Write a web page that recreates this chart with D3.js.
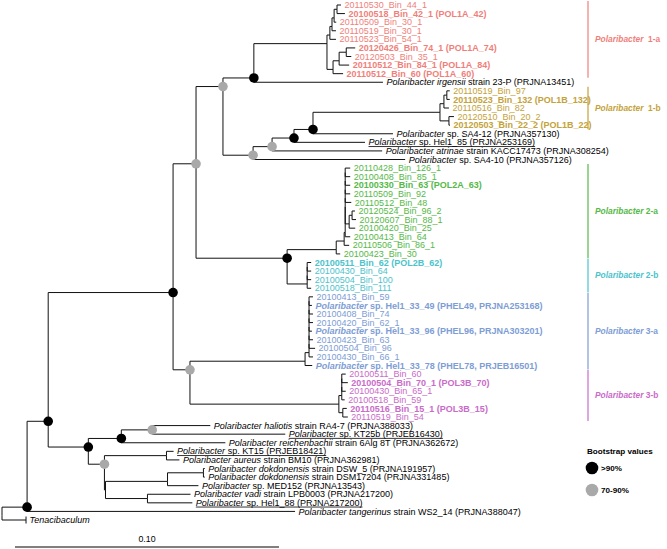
<!DOCTYPE html>
<html><head><meta charset="utf-8">
<script src="https://cdn.jsdelivr.net/npm/d3@7"></script>
<style>
html,body{margin:0;padding:0;background:#fff;}
svg{display:block;font-family:"Liberation Sans",Arial,sans-serif;}
</style></head>
<body>
<svg id="chart" width="667" height="549"></svg>
<script>
// ---------------- DATA ----------------
const leafLabels = [
"20110530_Bin_44_1","20100518_Bin_42_1 (POL1A_42)","20110509_Bin_30_1","20110519_Bin_30_1","20110523_Bin_54_1",
"20120426_Bin_74_1 (POL1A_74)","20120503_Bin_35_1","20110512_Bin_84_1 (POL1A_84)","20110512_Bin_60 (POL1A_60)",
"Polaribacter irgensii strain 23-P (PRJNA13451)",
"20110519_Bin_97","20110523_Bin_132 (POL1B_132)","20110516_Bin_82","20120510_Bin_20_2","20120503_Bin_22_2 (POL1B_22)",
"Polaribacter sp. SA4-12 (PRJNA357130)","Polaribacter sp. Hel1_85 (PRJNA253169)",
"Polaribacter atrinae strain KACC17473 (PRJNA308254)","Polaribacter sp. SA4-10 (PRJNA357126)",
"20110428_Bin_126_1","20100408_Bin_85_1","20100330_Bin_63 (POL2A_63)","20110509_Bin_92","20110512_Bin_48",
"20120524_Bin_96_2","20120607_Bin_88_1","20100420_Bin_25","20100413_Bin_64","20110506_Bin_86_1","20100423_Bin_30",
"20100511_Bin_62 (POL2B_62)","20100430_Bin_64","20100504_Bin_100","20100518_Bin_111",
"20100413_Bin_59","Polaribacter sp. Hel1_33_49 (PHEL49, PRJNA253168)","20100408_Bin_74","20100420_Bin_62_1",
"Polaribacter sp. Hel1_33_96 (PHEL96, PRJNA303201)","20100423_Bin_63","20100504_Bin_96","20100430_Bin_66_1",
"Polaribacter sp. Hel1_33_78 (PHEL78, PRJEB16501)",
"20100511_Bin_60","20100504_Bin_70_1 (POL3B_70)","20100430_Bin_65_1","20100518_Bin_59","20110516_Bin_15_1 (POL3B_15)","20110519_Bin_54",
"Polaribacter haliotis strain RA4-7 (PRJNA388033)","Polaribacter sp. KT25b (PRJEB16430)",
"Polaribacter reichenbachii strain 6Alg 8T (PRJNA362672)","Polaribacter sp. KT15 (PRJEB18421)",
"Polaribacter aureus strain BM10 (PRJNA362981)","Polaribacter dokdonensis strain DSW_5 (PRJNA191957)",
"Polaribacter dokdonensis strain DSM17204 (PRJNA331485)","Polaribacter sp. MED152 (PRJNA13543)",
"Polaribacter vadi strain LPB0003 (PRJNA217200)","Polaribacter sp. Hel1_88 (PRJNA217200)",
"Polaribacter tangerinus strain WS2_14 (PRJNA388047)","Tenacibaculum"
];
const boldLeaves = [2,6,8,9,12,15,22,31,36,39,43,45,48];
const underlinedLeaves = [17,51,53,59];
const collapsedLeaves = [61];
// groups: name, first leaf, last leaf
const groupNames = ["1-a","1-b","2-a","2-b","3-a","3-b"];
const groupFirst = [1,11,20,31,35,44];
const groupLast  = [9,15,30,34,43,49];

// tree in Newick pieces (leaf numbers index leafLabels; internal labels b = >90%, g = 70-90%)
const clade1a = "(((((1:0.0015,2:0.0030):0.0011,3:0.0008):0.0008,4:0.0015):0.0008,5:0.0023):0.0011," +
                "(((6:0.0034,7:0.0019):0.0027,8:0.0038):0.0023,9:0.0038):0.0023):0.0277";
const clade1b = "(((11:0.0011,12:0.0011):0.0011,13:0.0019):0.0015,(14:0.0019,15:0.0004):0.0034):0.0481";
const clade2a = "((((((((20:0.0019,21:0.0019):0,22:0.0019):0,23:0.0019):0,24:0.0023):0," +
                "((25:0.0011,26:0.0015):0.0011,27:0.0023):0.0015):0,28:0.0019):0.0004,29:0.0019):0.0030,30:0.0015):0.0186";
const clade2b = "(((31:0.0015,32:0.0015):0,33:0.0015):0,34:0.0015):0.0076";
const clade3a = "((((((((35:0.0015,36:0.0011):0,37:0.0015):0,38:0.0015):0,39:0.0011):0,40:0.0015):0,41:0.0023):0," +
                "42:0.0015):0.0015,43:0.0027):0.0436";
const clade3b = "((((44:0.0015,45:0.0023):0,46:0.0015):0,47:0.0011):0.0011,(48:0.0015,49:0.0019):0.0015):0.0564";
const cladeRefs = "(((50:0.0220,51:0.0504)g:0.0117,52:0.0394)b:0.0125," +
                  "((53:0.0027,54:0.0049):0.0235,(((55:0.0005,56:0.0005):0.0136,57:0.0117):0.0235," +
                  "(58:0.0163,59:0.0170):0.0159):0.0004)g:0.0061)b:0.0152";
const cladeC1 = "((" + clade1a + ",10:0.0489)b:0.0117,((((" + clade1b + ",16:0.0303)b:0.0072,17:0.0269)b:0.0083," +
                "18:0.0417)g:0.0072,19:0.0576)g:0.0114)g:0.0102";
const cladeC2 = "(" + clade2a + "," + clade2b + ")b:0.0345";
const newick = "(((((" + cladeC1 + "," + cladeC2 + ")g:0.0087,(" + clade3a + "," + clade3b + ")g:0.0064)b:0.0473," +
               cladeRefs + ")b:0.0080,60:0.1015)b:0.0095,61:0.0091);";

const scaleBarValue = 0.10;
const legendTitle = "Bootstrap values";
const legendLabels = [">90%", "70-90%"];
const legendCodes = ["b", "g"];

// ---------------- STYLE ----------------
const groupColors = {"1-a":"#f07f7b","1-b":"#c4a23a","2-a":"#55b947","2-b":"#4cc3cc","3-a":"#7d9dd5","3-b":"#c96bc9"};
const supportColors = {b:"#000000", g:"#a9a9a9"};

// ---------------- PARSE ----------------
function parseNewick(s){
  let i = 0;
  function node(){
    const n = {children: []};
    if (s[i] === "("){
      i++; n.children.push(node());
      while (s[i] === ","){ i++; n.children.push(node()); }
      i++;
    }
    let name = "";
    while (i < s.length && !",():;".includes(s[i])) name += s[i++];
    n.name = name;
    if (s[i] === ":"){
      i++; let num = "";
      while (i < s.length && !",();".includes(s[i])) num += s[i++];
      n.length = +num;
    } else n.length = 0;
    return n;
  }
  return node();
}
const root = d3.hierarchy(parseNewick(newick), d => d.children.length ? d.children : null);
root.eachBefore(d => { d.dist = (d.parent ? d.parent.dist : 0) + d.data.length; });

const leaves = root.leaves();
const x = d3.scaleLinear().domain([0, 0.1]).range([2, 266]);
const y = d3.scalePoint().domain(leaves.map(d => d.data.name)).range([5, 520]);

leaves.forEach(d => { d.py = y(d.data.name); });
root.eachAfter(d => {
  d.px = x(d.dist);
  if (d.children){
    const a = d.children[0].leaves(), b = d.children[d.children.length-1].leaves();
    d.py = (a[a.length-1].py + b[0].py) / 2;
  }
});

function groupOf(num){
  for (let k=0;k<groupNames.length;k++) if (num>=groupFirst[k] && num<=groupLast[k]) return groupNames[k];
  return null;
}

const svg = d3.select("#chart");

// branches
svg.append("g").selectAll("path").data(root.descendants().filter(d => d.parent)).join("path")
  .attr("d", d => `M${d.parent.px},${d.parent.py}V${d.py}H${d.px}`)
  .attr("fill","none").attr("stroke","#111").attr("stroke-width",1);

// collapsed tick
svg.append("g").selectAll("line").data(leaves.filter(d => collapsedLeaves.includes(+d.data.name))).join("line")
  .attr("x1", d => d.px).attr("x2", d => d.px).attr("y1", d => d.py-3.5).attr("y2", d => d.py+3.5)
  .attr("stroke","#111").attr("stroke-width",1);

// support dots
svg.append("g").selectAll("circle").data(root.descendants().filter(d => d.children && supportColors[d.data.name])).join("circle")
  .attr("cx", d => d.px).attr("cy", d => d.py).attr("r", 4.8)
  .attr("fill", d => supportColors[d.data.name]);

// labels
const lab = svg.append("g").attr("font-size", 9);
leaves.forEach(d => {
  const num = +d.data.name, text = leafLabels[num-1];
  const g = groupOf(num);
  const t = lab.append("text").attr("x", d.px + 3.5).attr("y", d.py).attr("dy","0.35em")
    .attr("fill", g ? groupColors[g] : "#000")
    .attr("font-weight", boldLeaves.includes(num) ? "bold" : "normal");
  let ital = "", rest = text;
  if (text.startsWith("Polaribacter ")){
    const parts = text.split(" ");
    if (parts[1] === "sp."){ ital = "Polaribacter"; rest = " " + parts.slice(1).join(" "); }
    else { ital = "Polaribacter " + parts[1]; rest = " " + parts.slice(2).join(" "); }
  } else if (!/^\d/.test(text)) { ital = text; rest = ""; }
  if (ital) t.append("tspan").attr("font-style","italic").text(ital);
  if (rest) t.append("tspan").attr("xml:space","preserve").text(rest);
  if (underlinedLeaves.includes(num)){
    const bb = t.node().getBBox();
    lab.append("line").attr("x1", bb.x).attr("x2", bb.x + bb.width)
      .attr("y1", d.py + 4.2).attr("y2", d.py + 4.2).attr("stroke","#000").attr("stroke-width",0.8);
  }
});

// group bars and labels
groupNames.forEach((name, k) => {
  const y0 = y(String(groupFirst[k])) - 4, y1 = y(String(groupLast[k])) + 4;
  svg.append("line").attr("x1", 588).attr("x2", 588).attr("y1", y0).attr("y2", y1)
    .attr("stroke", groupColors[name]).attr("stroke-width", 1.2);
  const t = svg.append("text").attr("x", 595).attr("y", (y0+y1)/2).attr("dy","0.35em")
    .attr("font-size", 8.4).attr("font-weight","bold").attr("fill", groupColors[name]);
  t.append("tspan").attr("font-style","italic").text("Polaribacter");
  t.append("tspan").attr("xml:space","preserve").text((name.startsWith("1") ? "  " : " ") + name);
});

// legend
const lg = svg.append("g");
lg.append("text").attr("x", 587).attr("y", 451).attr("dy","0.35em").attr("font-size", 8.1)
  .attr("font-weight","bold").text(legendTitle);
legendLabels.forEach((l, k) => {
  const cy = 468 + k*22;
  lg.append("circle").attr("cx", 592).attr("cy", cy).attr("r", 6.3).attr("fill", supportColors[legendCodes[k]]);
  lg.append("text").attr("x", 601).attr("y", cy).attr("dy","0.35em").attr("font-size", 8.1)
    .attr("font-weight","bold").text(l);
});

// scale bar
const sbLen = x(scaleBarValue) - x(0);
svg.append("line").attr("x1", 15).attr("x2", 15 + sbLen).attr("y1", 547).attr("y2", 547)
  .attr("stroke","#000").attr("stroke-width",1);
svg.append("text").attr("x", 15 + sbLen/2).attr("y", 539).attr("dy","0.35em").attr("text-anchor","middle")
  .attr("font-size", 8.8).text(d3.format(".2f")(scaleBarValue));
</script>
</body></html>
